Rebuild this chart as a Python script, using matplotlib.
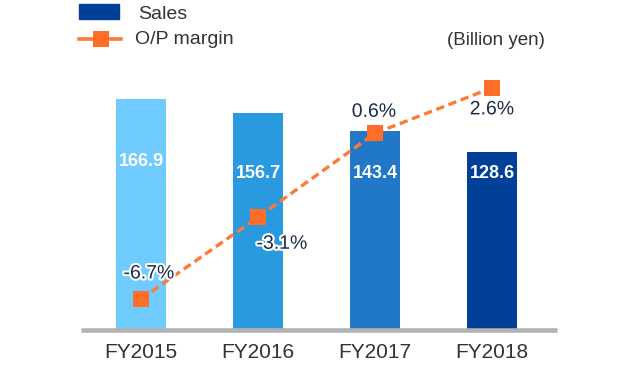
import matplotlib
matplotlib.use("Agg")
import matplotlib.pyplot as plt
import matplotlib.patheffects as pe
from matplotlib.patches import Rectangle
from matplotlib.lines import Line2D

# ---- data ----
years = ["FY2015", "FY2016", "FY2017", "FY2018"]
sales = [166.9, 156.7, 143.4, 128.6]
op_margin = [-6.7, -3.1, 0.6, 2.6]
sales_labels = ["166.9", "156.7", "143.4", "128.6"]
margin_labels = ["-6.7%", "-3.1%", "0.6%", "2.6%"]

# ---- styles / layout ----
bar_colors = ["#70CBFF", "#2A9AE0", "#2278C8", "#004098"]
sales_label_y = [121.5, 113, 113, 113]
margin_offsets = [(8, 25), (24, -27), (-1, 21), (0, -22)]  # pixels
line_color = "#FF7A35"
marker_color = "#FF6D26"
text_dark = "#333333"
pct_color = "#1B2A47"

plt.rcParams["font.family"] = ["Liberation Sans", "DejaVu Sans"]
plt.rcParams["lines.scale_dashes"] = False

W, H, DPI = 640, 370, 100
fig = plt.figure(figsize=(W / DPI, H / DPI), dpi=DPI)

def fx(px):
    return px / W

def fy(py):
    return 1 - py / H

left_px, right_px = 81, 557
base_px = 329.5
ax = fig.add_axes([fx(left_px), fy(base_px), fx(right_px - left_px), base_px / H])
ax.set_facecolor("none")

x = list(range(len(years)))
px_per_cat = 117.0
ax.set_xlim(-(141 - left_px) / px_per_cat, 3 + (right_px - 492) / px_per_cat)
px_per_sales = 1.382
ax.set_ylim(0, base_px / px_per_sales)

ax.bar(x, sales, width=50 / px_per_cat, color=bar_colors, zorder=2)
ax.axhline(0, color="#B3B3B3", linewidth=3.3, zorder=3,
           solid_capstyle="butt", clip_on=False)

for xi, ly, lab in zip(x, sales_label_y, sales_labels):
    ax.text(xi, ly, lab, color="white", fontsize=13, fontweight="bold",
            ha="center", va="center", zorder=4)

ax.set_xticks(x)
ax.set_xticklabels(years, fontsize=15, color=text_dark)
ax.tick_params(axis="x", length=0, pad=10)
ax.set_yticks([])
for s in ax.spines.values():
    s.set_visible(False)

# secondary axis
ax2 = ax.twinx()
zero_px = 146.9
px_per_pct = 22.7
ax2.set_ylim((zero_px - base_px) / px_per_pct, zero_px / px_per_pct)
ax2.set_yticks([])
for s in ax2.spines.values():
    s.set_visible(False)

ax2.plot(x, op_margin, color=line_color, linewidth=2.4, dashes=(6.0, 3.4),
         zorder=5, clip_on=False)
ax2.plot(x, op_margin, linestyle="none", marker="s", markersize=11.5,
         color=marker_color, markeredgewidth=0, zorder=6, clip_on=False)

for xi, v, lab, (dx, dy) in zip(x, op_margin, margin_labels, margin_offsets):
    ax2.annotate(lab, (xi, v), xytext=(dx, dy), textcoords="offset pixels",
                 ha="center", va="center", fontsize=14, color=pct_color,
                 zorder=7,
                 path_effects=[pe.withStroke(linewidth=3, foreground="white")])

# ---- legend (manual) ----
fig.patches.append(Rectangle((fx(79), fy(19)), fx(40), 15 / H,
                             transform=fig.transFigure, color="#004098"))
fig.lines.append(Line2D([fx(79), fx(121)], [fy(38.5), fy(38.5)],
                        transform=fig.transFigure, color=line_color,
                        linewidth=2.6))
fig.lines.append(Line2D([fx(100.5)], [fy(38.5)], transform=fig.transFigure,
                        marker="s", markersize=11, color=marker_color,
                        markeredgewidth=0, linestyle="none"))
fig.text(fx(138), fy(19), "Sales", fontsize=14, color=text_dark,
         ha="left", va="baseline")
fig.text(fx(135), fy(44.5), "O/P margin", fontsize=14, color=text_dark,
         ha="left", va="baseline")
fig.text(fx(545), fy(45), "(Billion yen)", fontsize=13.5, color=text_dark,
         ha="right", va="baseline")

fig.savefig("out.png", dpi=DPI)
